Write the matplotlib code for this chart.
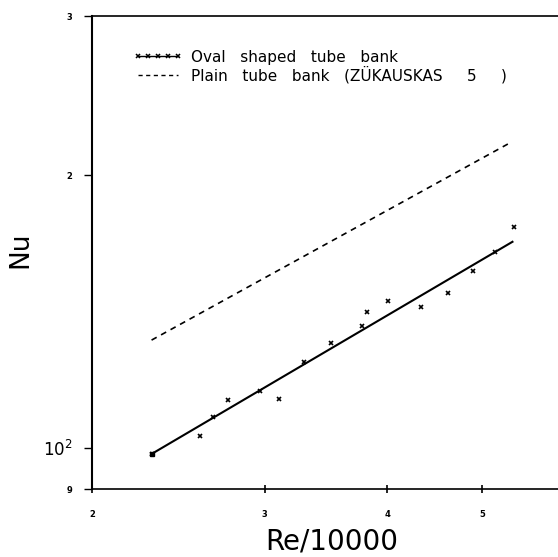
import matplotlib
matplotlib.use("Agg")
import matplotlib.pyplot as plt
from matplotlib.lines import Line2D
from matplotlib.ticker import FixedLocator, NullLocator

# measured points, oval shaped tube bank (Re/10000, Nu)
re_oval = [2.30, 2.58, 2.66, 2.75, 2.97, 3.10, 3.29, 3.51, 3.77, 3.82,
           4.01, 4.33, 4.61, 4.89, 5.16, 5.39]
nu_oval = [98.4, 103.1, 108.0, 113.0, 115.6, 113.3, 124.4, 130.4, 136.3, 141.2,
           145.2, 143.2, 148.1, 156.8, 164.6, 175.6]

# correlation lines (end points)
re_fit = [2.30, 5.37]
nu_fit = [98.4, 168.9]
re_zuk = [2.30, 5.36]
nu_zuk = [131.5, 217.8]

x_ticks = [2, 3, 4, 5]
x_ticklabels = ["2", "3", "4", "5"]
y_ticks = [90, 100, 200, 300]
y_ticklabels = ["9", "10$^2$", "2", "3"]

fig = plt.figure(figsize=(5.58, 5.57), dpi=100)
ax = fig.add_axes([0.165, 0.122, 0.838, 0.849])

ax.set_xscale("log")
ax.set_yscale("log")
ax.set_xlim(2, 6)
ax.set_ylim(90, 300)

ax.plot(re_fit, nu_fit, color="black", lw=1.5)
ax.plot(re_zuk, nu_zuk, color="black", lw=1.2, ls=(0, (3.5, 3)))
ax.plot(re_oval, nu_oval, ls="none", marker="x", color="black",
        markersize=3, markeredgewidth=1.2)
# first point drawn as a small filled square, as in the scan
ax.plot(re_oval[:1], nu_oval[:1], ls="none", marker="s", color="black",
        markersize=3.5)

ax.xaxis.set_major_locator(FixedLocator(x_ticks))
ax.xaxis.set_minor_locator(NullLocator())
ax.yaxis.set_major_locator(FixedLocator(y_ticks))
ax.yaxis.set_minor_locator(NullLocator())
ax.set_xticklabels(x_ticklabels, fontsize=6, fontweight="bold")
ax.set_yticklabels(y_ticklabels, fontsize=6, fontweight="bold")
for lab in ax.get_yticklabels():
    if "10" in lab.get_text():
        lab.set_fontsize(12)
        lab.set_fontweight("normal")
ax.tick_params(axis="x", direction="inout", length=6, width=1.2, pad=12)
ax.tick_params(axis="y", direction="out", length=6, width=1.0, pad=8)

ax.spines["right"].set_visible(False)
ax.spines["left"].set_linewidth(1.5)
ax.spines["bottom"].set_linewidth(1.2)
ax.spines["top"].set_linewidth(1.2)

ax.set_xlabel("Re/10000", fontsize=20)
ax.xaxis.set_label_coords(0.513, -0.082)
ax.set_ylabel("Nu", fontsize=19)
ax.yaxis.set_label_coords(-0.125, 0.505)

handles = [
    Line2D([], [], color="black", lw=1.0, marker="x", markersize=3,
           markeredgewidth=1.1),
    Line2D([], [], color="black", lw=1.0, ls=(0, (3, 2.5))),
]
leg = ax.legend(handles, ["Oval   shaped   tube   bank",
                          "Plain   tube   bank   (ZÜKAUSKAS     5     )"],
                loc="upper left", bbox_to_anchor=(0.088, 0.929),
                frameon=False, fontsize=11, handlelength=3.2,
                handletextpad=0.6, labelspacing=0.1, borderpad=0,
                borderaxespad=0, numpoints=5)

fig.savefig("out.png", dpi=100)
